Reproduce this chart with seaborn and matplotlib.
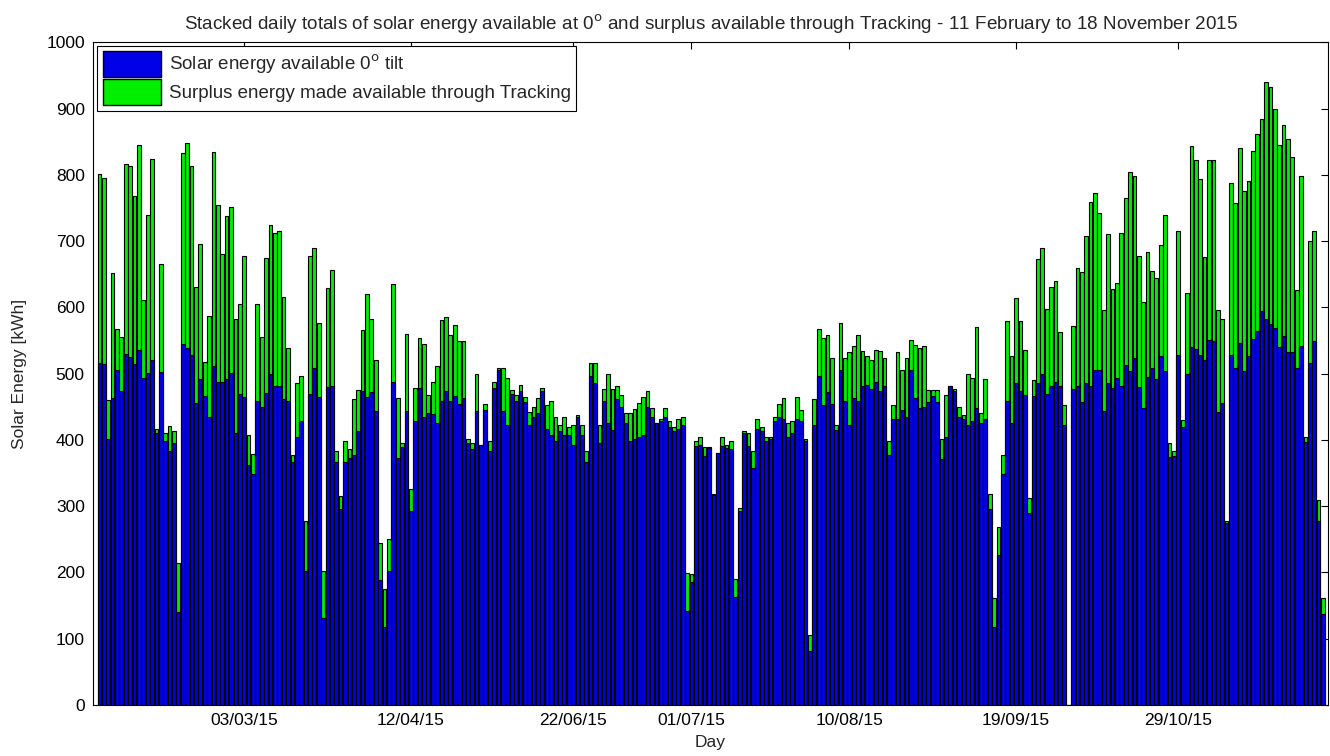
import numpy as np
import pandas as pd
import matplotlib
matplotlib.use("Agg")
import matplotlib.pyplot as plt
from matplotlib.patches import Patch
import seaborn as sns

# daily totals (kWh); day 222 is missing in the record
solar_0deg = [
    516, 515, 402, 464, 505, 474, 530, 525, 515, 536, 494, 501, 521, 411, 503, 398, 383, 395, 140, 545,
    539, 528, 455, 492, 466, 435, 512, 488, 488, 492, 501, 411, 470, 465, 362, 349, 459, 449, 471, 499,
    481, 481, 461, 459, 367, 404, 428, 202, 470, 508, 465, 132, 480, 481, 366, 295, 366, 372, 377, 414,
    474, 465, 472, 444, 189, 117, 202, 488, 372, 389, 443, 292, 428, 479, 435, 441, 439, 425, 459, 474,
    459, 466, 454, 463, 395, 387, 443, 393, 445, 384, 479, 505, 443, 422, 469, 459, 474, 457, 422, 435,
    441, 474, 417, 407, 399, 414, 408, 407, 393, 435, 408, 367, 497, 486, 395, 459, 426, 415, 462, 450,
    426, 398, 402, 404, 408, 450, 435, 426, 428, 435, 419, 413, 417, 422, 142, 185, 391, 392, 375, 388,
    317, 381, 391, 388, 386, 163, 293, 411, 391, 358, 417, 413, 398, 401, 428, 435, 432, 404, 411, 432,
    429, 399, 81, 423, 497, 453, 472, 454, 415, 505, 459, 423, 463, 459, 481, 483, 477, 488, 474, 481,
    377, 432, 432, 445, 435, 505, 464, 448, 450, 457, 466, 457, 371, 405, 481, 474, 435, 432, 422, 428,
    448, 426, 432, 296, 118, 227, 349, 459, 426, 486, 474, 468, 290, 466, 486, 499, 470, 481, 488, 481,
    423, 0, 477, 481, 457, 486, 481, 505, 505, 444, 486, 479, 494, 481, 513, 504, 523, 480, 448, 495,
    508, 492, 527, 504, 374, 376, 528, 420, 499, 540, 537, 528, 520, 551, 549, 442, 455, 274, 528, 508,
    546, 504, 526, 553, 564, 595, 582, 575, 569, 540, 557, 532, 532, 509, 541, 397, 516, 549, 278, 138,
]
with_tracking = [
    801, 795, 460, 652, 567, 556, 817, 813, 768, 845, 611, 740, 824, 417, 665, 410, 421, 413, 215, 833,
    848, 813, 631, 696, 518, 587, 835, 755, 680, 738, 751, 583, 605, 678, 408, 378, 605, 556, 674, 725,
    713, 716, 616, 539, 377, 486, 497, 277, 677, 689, 576, 202, 630, 656, 384, 316, 399, 386, 461, 476,
    566, 620, 583, 521, 244, 175, 251, 636, 463, 396, 560, 326, 479, 554, 545, 468, 487, 512, 581, 585,
    558, 573, 549, 549, 401, 396, 500, 393, 454, 399, 487, 509, 509, 494, 476, 468, 483, 465, 442, 450,
    463, 479, 452, 459, 435, 422, 435, 419, 422, 437, 422, 384, 516, 516, 423, 477, 499, 477, 481, 468,
    441, 441, 447, 456, 465, 474, 448, 426, 432, 448, 428, 419, 432, 434, 199, 197, 399, 404, 390, 389,
    319, 381, 404, 392, 399, 190, 297, 413, 410, 383, 432, 420, 405, 405, 434, 454, 463, 425, 428, 465,
    445, 401, 106, 461, 567, 554, 558, 524, 423, 576, 524, 532, 541, 558, 534, 527, 521, 536, 534, 524,
    399, 452, 532, 505, 523, 551, 543, 539, 541, 476, 476, 476, 401, 468, 481, 477, 450, 438, 499, 494,
    570, 441, 492, 319, 162, 268, 377, 579, 527, 614, 579, 536, 313, 490, 673, 689, 598, 631, 640, 563,
    452, 0, 572, 660, 653, 707, 759, 773, 742, 596, 710, 627, 637, 713, 765, 805, 798, 678, 608, 683,
    655, 645, 694, 740, 396, 383, 716, 430, 621, 844, 823, 794, 676, 823, 823, 596, 582, 278, 787, 757,
    841, 776, 790, 836, 861, 884, 940, 932, 900, 845, 876, 854, 827, 626, 798, 405, 700, 716, 310, 161,
]
tick_days = [34, 72, 109, 136, 172, 210, 247]
tick_labels = ["03/03/15", "12/04/15", "22/06/15", "01/07/15", "10/08/15", "19/09/15", "29/10/15"]

df = pd.DataFrame({
    "day": np.arange(1, len(solar_0deg) + 1),
    "flat": solar_0deg,
    "total": with_tracking,
})

sns.set_theme(style="white")
plt.rcParams["font.family"] = ["Liberation Sans", "DejaVu Sans"]

BLUE = "#0000e6"
GREEN = "#00ee00"

fig = plt.figure(figsize=(13.3, 7.56), dpi=100)
ax = fig.add_axes([0.070, 0.0675, 0.9285, 0.8765])

# stacked look: full height in green, flat-panel part drawn over it in blue
sns.barplot(data=df, x="day", y="total", native_scale=True, color=GREEN, saturation=1,
            width=0.85, edgecolor="black", linewidth=0.8, ax=ax)
sns.barplot(data=df, x="day", y="flat", native_scale=True, color=BLUE, saturation=1,
            width=0.85, edgecolor="black", linewidth=0.8, ax=ax)

ax.set_xlim(-0.44, 281.14)
ax.set_ylim(0, 1000)
ax.set_yticks(range(0, 1001, 100))
ax.set_xticks(tick_days)
ax.set_xticklabels(tick_labels)
ax.tick_params(direction="in", length=5, width=0.8, top=True, right=True,
               labelsize=12.5, colors="black", pad=6)
for s in ax.spines.values():
    s.set_color("black")
    s.set_linewidth(0.8)

ax.set_xlabel("Day", fontsize=12.5, labelpad=5)
ax.set_ylabel("Solar Energy [kWh]", fontsize=12.5, labelpad=14)
ax.set_title("Stacked daily totals of solar energy available at 0$^{\\mathrm{o}}$ and surplus "
             "available through Tracking - 11 February to 18 November 2015",
             fontsize=13.6, pad=9)

handles = [
    Patch(facecolor=BLUE, edgecolor="black", label="Solar energy available 0$^{\\mathrm{o}}$ tilt"),
    Patch(facecolor=GREEN, edgecolor="black", label="Surplus energy made available through Tracking"),
]
leg = ax.legend(handles=handles, loc="upper left", bbox_to_anchor=(0.0035, 0.995),
                fontsize=13.5, handlelength=3.1, handleheight=1.75, handletextpad=0.4,
                borderpad=0.3, labelspacing=0.12, fancybox=False, framealpha=1,
                borderaxespad=0)
leg.get_frame().set_edgecolor("black")
leg.get_frame().set_linewidth(0.8)

fig.savefig("out.png", dpi=100, facecolor="white")
